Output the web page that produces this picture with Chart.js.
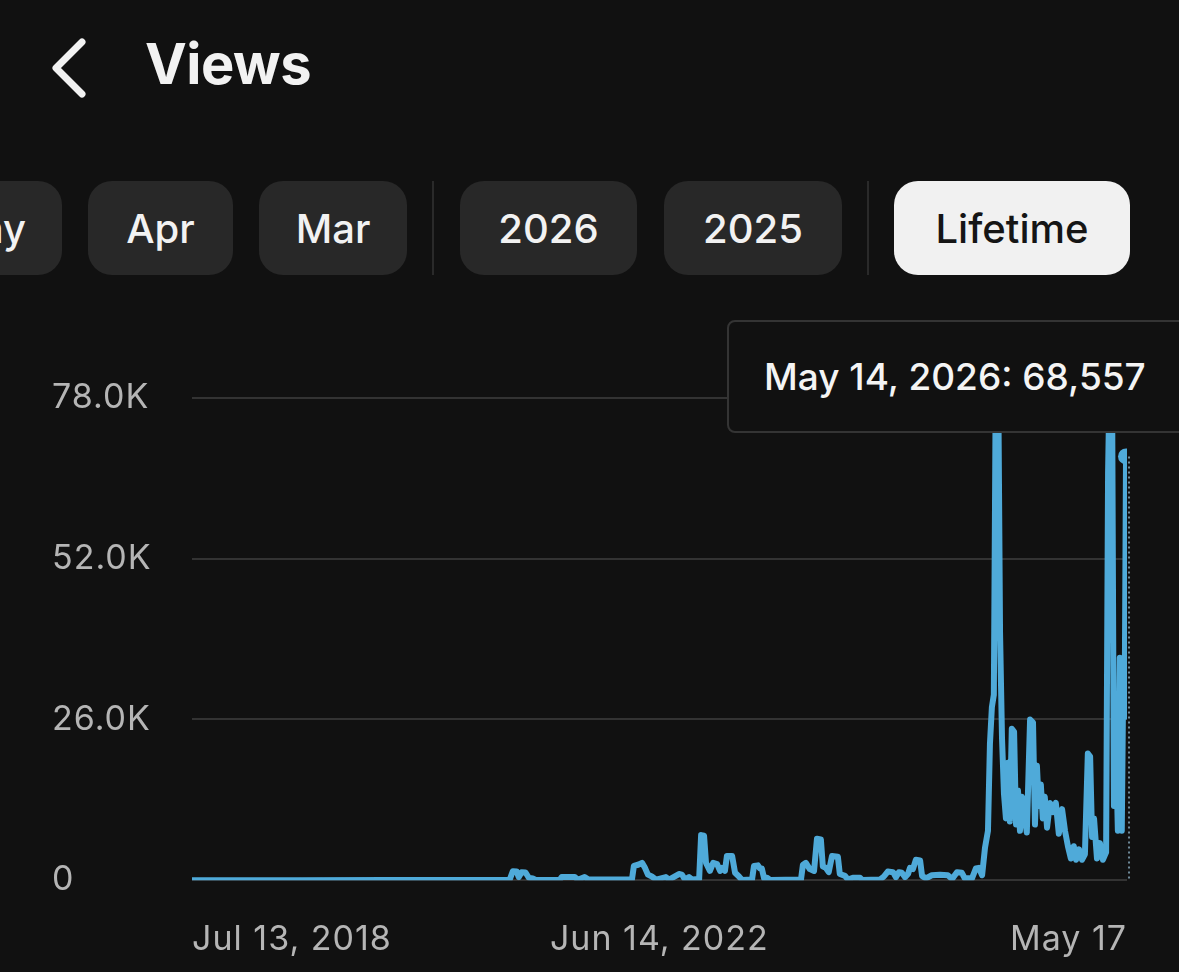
<!DOCTYPE html>
<html>
<head>
<meta charset="utf-8">
<script src="https://cdn.jsdelivr.net/npm/chart.js@4.4.0/dist/chart.umd.min.js"></script>
<style>
  html, body { margin: 0; padding: 0; background: #111111; }
  body { width: 1179px; height: 972px; position: relative; overflow: hidden; font-family: Inter, "Noto Sans", sans-serif; color: #f2f2f2; }
  .back { position: absolute; left: 46px; top: 36px; }
  .title { position: absolute; left: 145px; top: 30px; font-size: 56px; font-weight: 700; letter-spacing: -0.5px; }
  .pill { position: absolute; top: 181px; height: 94px; border-radius: 24px; background: #282828; font-size: 40px; font-weight: 500; display: flex; align-items: center; justify-content: center; box-sizing: border-box; }
  .pill.on { background: #f1f1f1; color: #151515; }
  .sep { position: absolute; top: 181px; width: 2px; height: 94px; background: #2a2a2a; }
  #wrap { position: absolute; left: 0; top: 300px; width: 1179px; height: 699px; }
  #tip { position: absolute; left: 727px; top: 320px; width: 480px; height: 113px; box-sizing: border-box; border: 2px solid #343434; border-radius: 8px; background: #111111; font-size: 37px; font-weight: 500; padding-left: 35px; display: flex; align-items: center; color: #f4f4f4; }
</style>
</head>
<body>
<svg class="back" width="50" height="64" viewBox="0 0 50 64">
  <polyline points="36,6 10,32 36,58" fill="none" stroke="#f2f2f2" stroke-width="7" stroke-linecap="round" stroke-linejoin="round"/>
</svg>
<div class="title">Views</div>

<div class="pill" style="left:-90px;width:152px;justify-content:flex-end;padding-right:36px;">May</div>
<div class="pill" style="left:88px;width:145px;">Apr</div>
<div class="pill" style="left:259px;width:148px;">Mar</div>
<div class="sep" style="left:432px;"></div>
<div class="pill" style="left:460px;width:177px;">2026</div>
<div class="pill" style="left:664px;width:178px;">2025</div>
<div class="sep" style="left:867px;"></div>
<div class="pill on" style="left:894px;width:236px;">Lifetime</div>

<div id="wrap"><canvas id="viewsChart"></canvas></div>
<div id="tip"></div>

<script>
// daily views, sampled where the curve changes
const dates = [
  '2018-07-13', '2019-06-01', '2020-03-01', '2020-12-01', '2021-03-12',
  '2021-03-22', '2021-04-03', '2021-04-09', '2021-04-18', '2021-04-30', '2021-05-10', '2021-05-22', '2021-05-31',
  '2021-08-13', '2021-08-19', '2021-09-28', '2021-10-07', '2021-10-28', '2021-11-09',
  '2022-03-22', '2022-03-28', '2022-04-10', '2022-04-22', '2022-05-01', '2022-05-10', '2022-05-22', '2022-06-04',
  '2022-07-04', '2022-07-14', '2022-08-13', '2022-08-22', '2022-09-01', '2022-09-13', '2022-09-22',
  '2022-10-14', '2022-10-20', '2022-10-29', '2022-11-04', '2022-11-16', '2022-11-26', '2022-12-08', '2022-12-17',
  '2022-12-23', '2023-01-01', '2023-01-07', '2023-01-23', '2023-02-01', '2023-02-13', '2023-02-22',
  '2023-03-25', '2023-03-31', '2023-04-12', '2023-04-18', '2023-04-24', '2023-05-01', '2023-05-10', '2023-05-19',
  '2023-08-22', '2023-08-28', '2023-09-06', '2023-09-18', '2023-10-01', '2023-10-10', '2023-10-22', '2023-10-28',
  '2023-11-06', '2023-11-15', '2023-11-25', '2023-12-13', '2023-12-19', '2024-01-04', '2024-01-13', '2024-01-28',
  '2024-02-19', '2024-02-25', '2024-04-20', '2024-05-02', '2024-05-14', '2024-05-30', '2024-06-08', '2024-06-17',
  '2024-06-26', '2024-07-06', '2024-07-15', '2024-07-21', '2024-07-30', '2024-08-08', '2024-08-21', '2024-08-27',
  '2024-09-08', '2024-09-26', '2024-10-21', '2024-11-14', '2024-11-27', '2024-12-12', '2024-12-27', '2025-01-05',
  '2025-01-27', '2025-02-08', '2025-02-17', '2025-02-27', '2025-03-08', '2025-03-17', '2025-03-23', '2025-03-29',
  '2025-04-04', '2025-04-10', '2025-04-17', '2025-04-23', '2025-04-29', '2025-05-05', '2025-05-11', '2025-05-17',
  '2025-05-23', '2025-05-29', '2025-06-05', '2025-06-11', '2025-06-17', '2025-06-23', '2025-06-29', '2025-07-08',
  '2025-07-14', '2025-07-24', '2025-08-02', '2025-08-08', '2025-08-14', '2025-08-20', '2025-08-26', '2025-09-01',
  '2025-09-07', '2025-09-14', '2025-09-23', '2025-10-02', '2025-10-11', '2025-10-20', '2025-10-30', '2025-11-08',
  '2025-11-17', '2025-11-26', '2025-12-05', '2025-12-12', '2025-12-21', '2025-12-30', '2026-01-08', '2026-01-17',
  '2026-01-24', '2026-01-30', '2026-02-05', '2026-02-14', '2026-02-23', '2026-03-04', '2026-03-14', '2026-03-20',
  '2026-03-26', '2026-04-01', '2026-04-07', '2026-04-13', '2026-04-19', '2026-04-25', '2026-05-01', '2026-05-06',
  '2026-05-10', '2026-05-14', '2026-05-17'
];
const views = [
  0, 10, 15, 20, 30,
  1450, 1400, 500, 1300, 1250, 400, 300, 50,
  60, 500, 500, 80, 500, 100,
  100, 2300, 2500, 2800, 2000, 900, 600, 100,
  500, 100, 1000, 900, 100, 500, 100,
  200, 7300, 7200, 2800, 1500, 2800, 2600, 1500,
  2000, 1500, 3900, 3900, 1200, 600, 50,
  100, 2300, 2400, 1900, 1900, 300, 400, 50,
  100, 2500, 2800, 1800, 1500, 6700, 6600, 2200,
  2000, 1300, 3900, 3800, 1000, 700, 100, 400,
  400, 50, 100, 600, 1400, 1300, 500, 1300,
  1200, 500, 1000, 2000, 1800, 3300, 3200, 700,
  300, 800, 900, 800, 200, 1300, 1200, 300,
  300, 1900, 2000, 800, 5300, 8000, 22000, 28000,
  30000, 82000, 84000, 40000, 23000, 14000, 10000, 19000,
  9500, 24500, 24000, 9000, 14500, 8000, 13500, 10000,
  7700, 26000, 25500, 9000, 18500, 12000, 15500, 10000,
  13500, 8500, 12500, 11000, 12500, 7500, 11500, 8000,
  5500, 3500, 5500, 3300, 5000, 3300, 4200, 20500,
  20000, 7000, 10000, 3500, 6000, 3300, 4500, 66000,
  85000, 83000, 12000, 22000, 8000, 36000, 8000, 35000,
  30000, 68557, 26000
];
const yTicks = [0, 26000, 52000, 78000];
const yTickLabels = ['0', '26.0K', '52.0K', '78.0K'];
const xTickDates = ['2018-07-13', '2022-06-14', '2026-05-17'];
const xTickLabels = ['Jul 13, 2018', 'Jun 14, 2022', 'May 17'];
const activeDate = '2026-05-14';

const DAY = 86400000;
function toDay(s) {
  const p = s.split('-').map(Number);
  return (Date.UTC(p[0], p[1] - 1, p[2]) - Date.UTC(2018, 6, 13)) / DAY;
}
const points = dates.map((d, i) => ({ x: toDay(d), y: views[i] }));
const activeIdx = dates.indexOf(activeDate);

const months = ['Jan','Feb','Mar','Apr','May','Jun','Jul','Aug','Sep','Oct','Nov','Dec'];
const ap = activeDate.split('-').map(Number);
document.getElementById('tip').textContent =
  months[ap[1] - 1] + ' ' + ap[2] + ', ' + ap[0] + ': ' + views[activeIdx].toLocaleString('en-US');

const hoverLine = {
  id: 'hoverLine',
  beforeDraw(chart) {
    chart.ctx.letterSpacing = '1px';
  },
  afterDatasetsDraw(chart) {
    const pt = chart.getDatasetMeta(0).data[activeIdx];
    const c = chart.ctx;
    c.save();
    c.strokeStyle = '#6f8a99';
    c.lineWidth = 2;
    c.setLineDash([2, 3]);
    c.beginPath();
    c.moveTo(pt.x + 3, pt.y);
    c.lineTo(pt.x + 3, chart.chartArea.bottom);
    c.stroke();
    c.restore();
  }
};

const blue = '#4faad9';
const ctx = document.getElementById('viewsChart').getContext('2d');
const viewsChart = new Chart(ctx, {
  type: 'line',
  data: {
    datasets: [{
      data: points,
      borderColor: blue,
      backgroundColor: blue,
      borderWidth: 6,
      borderJoinStyle: 'round',
      tension: 0,
      pointRadius: (c) => c.dataIndex === activeIdx ? 8 : 0,
      pointBorderWidth: 0
    }]
  },
  options: {
    responsive: true,
    maintainAspectRatio: false,
    animation: false,
    events: [],
    layout: { padding: { left: 52, right: 52, top: 98, bottom: 0 } },
    plugins: { legend: { display: false }, tooltip: { enabled: false } },
    scales: {
      x: {
        type: 'linear',
        min: toDay(xTickDates[0]),
        max: toDay(xTickDates[2]),
        afterBuildTicks: (s) => { s.ticks = xTickDates.map(d => ({ value: toDay(d) })); },
        grid: { display: false, drawTicks: false },
        border: { display: false },
        ticks: {
          align: 'inner',
          maxRotation: 0,
          autoSkip: false,
          padding: 39,
          color: '#b5b5b5',
          font: { family: 'Inter', size: 34 },
          callback: (v, i) => xTickLabels[i]
        }
      },
      y: {
        min: 0,
        max: 78000,
        afterBuildTicks: (s) => { s.ticks = yTicks.map(v => ({ value: v })); },
        afterFit: (s) => { s.width = 140; },
        grid: { color: '#333333', lineWidth: 2, drawTicks: false },
        border: { display: false },
        ticks: {
          crossAlign: 'far',
          color: '#b5b5b5',
          font: { family: 'Inter', size: 34 },
          callback: (v, i) => yTickLabels[i]
        }
      }
    }
  },
  plugins: [hoverLine]
});
</script>
</body>
</html>
